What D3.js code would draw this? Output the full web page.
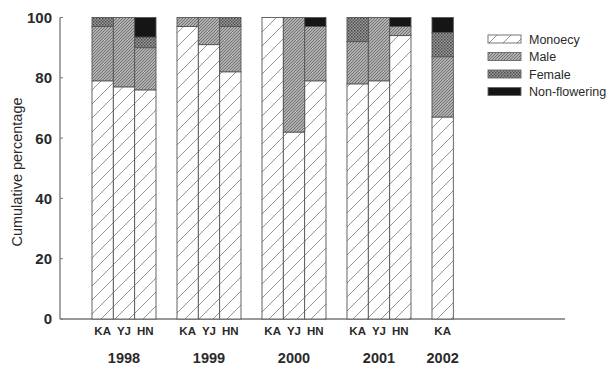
<!DOCTYPE html>
<html>
<head>
<meta charset="utf-8">
<script src="https://cdn.jsdelivr.net/npm/d3@7"></script>
<style>
  html, body { margin: 0; padding: 0; background: #fff; }
  svg { display: block; font-family: "Liberation Sans", Arial, sans-serif; }
</style>
</head>
<body>
<svg id="chart" width="609" height="368"></svg>
<script>
const years = ["1998", "1999", "2000", "2001", "2002"];
const sites = ["KA", "YJ", "HN"];
const barYear = ["1998","1998","1998","1999","1999","1999","2000","2000","2000","2001","2001","2001","2002"];
const barSite = ["KA","YJ","HN","KA","YJ","HN","KA","YJ","HN","KA","YJ","HN","KA"];
const monoecy      = [79, 77, 76,   97, 91, 82,   100, 62, 79,   78, 79, 94,   67];
const male         = [18, 23, 14,    3,  9, 15,     0, 38, 18,   14, 21,  3,   20];
const female       = [ 3,  0, 3.5,   0,  0,  3,     0,  0,  0,    8,  0,  0,    8];
const nonFlowering = [ 0,  0, 6.5,   0,  0,  0,     0,  0,  3,    0,  0,  3,    5];
const seriesNames = ["Monoecy", "Male", "Female", "Non-flowering"];
const yTicks = [0, 20, 40, 60, 80, 100];

const svg = d3.select("#chart");
const defs = svg.append("defs");

// patterns
const pMono = defs.append("pattern").attr("id", "p-mono").attr("patternUnits", "userSpaceOnUse")
  .attr("width", 14).attr("height", 14);
pMono.append("rect").attr("width", 14).attr("height", 14).attr("fill", "#fff");
pMono.append("path").attr("d", "M-2,16 L16,-2 M-2,2 L2,-2 M12,16 L16,12")
  .attr("stroke", "#888").attr("stroke-width", 0.9);

const pMale = defs.append("pattern").attr("id", "p-male").attr("patternUnits", "userSpaceOnUse")
  .attr("width", 3).attr("height", 3);
pMale.append("rect").attr("width", 3).attr("height", 3).attr("fill", "#b0b0b0");
pMale.append("path").attr("d", "M-1,4 L4,-1 M-1,1 L1,-1 M2,4 L4,2")
  .attr("stroke", "#737373").attr("stroke-width", 1);

const pFem = defs.append("pattern").attr("id", "p-fem").attr("patternUnits", "userSpaceOnUse")
  .attr("width", 3).attr("height", 3);
pFem.append("rect").attr("width", 3).attr("height", 3).attr("fill", "#9a9a9a");
pFem.append("rect").attr("width", 1.5).attr("height", 1.5).attr("fill", "#4a4a4a");
pFem.append("rect").attr("x", 1.5).attr("y", 1.5).attr("width", 1.5).attr("height", 1.5).attr("fill", "#5a5a5a");

const fills = ["url(#p-mono)", "url(#p-male)", "url(#p-fem)", "#151515"];

// scales
const y = d3.scaleLinear().domain([0, 100]).range([319, 17.5]);
const xGroup = d3.scaleBand().domain(years).range([92, 496]).paddingInner(21 / 85).paddingOuter(0);
const xSite = d3.scaleBand().domain(sites).range([0, xGroup.bandwidth()]).padding(0);

// data table
const table = barYear.map((yr, i) => ({
  year: yr, site: barSite[i],
  Monoecy: monoecy[i], Male: male[i], Female: female[i], "Non-flowering": nonFlowering[i]
}));
const stack = d3.stack().keys(seriesNames)(table);

// axes lines
svg.append("line").attr("x1", 60).attr("x2", 565).attr("y1", y(0)).attr("y2", y(0))
  .attr("stroke", "#777").attr("stroke-width", 1.3);
svg.append("line").attr("x1", 60).attr("x2", 60).attr("y1", y(0)).attr("y2", y(100))
  .attr("stroke", "#777").attr("stroke-width", 1.3);

// y ticks
const yAxis = svg.append("g");
yTicks.forEach(t => {
  yAxis.append("line").attr("x1", 60).attr("x2", 63).attr("y1", y(t)).attr("y2", y(t))
    .attr("stroke", "#777").attr("stroke-width", 1);
  yAxis.append("text").attr("x", 52).attr("y", y(t)).attr("dy", "0.36em")
    .attr("text-anchor", "end").attr("font-size", 15).attr("font-weight", "bold")
    .attr("fill", "#2a2a2a").text(t);
});

svg.append("text").attr("transform", "translate(22,172) rotate(-90)")
  .attr("text-anchor", "middle").attr("font-size", 14.5).attr("fill", "#2a2a2a")
  .text("Cumulative percentage");

// bars
stack.forEach((layer, li) => {
  svg.append("g").selectAll("rect").data(layer.filter(d => d[1] - d[0] > 0)).join("rect")
    .attr("x", d => xGroup(d.data.year) + xSite(d.data.site))
    .attr("width", xSite.bandwidth())
    .attr("y", d => y(d[1]))
    .attr("height", d => y(d[0]) - y(d[1]))
    .attr("fill", fills[li])
    .attr("stroke", "#555").attr("stroke-width", 0.9);
});

// site labels
svg.append("g").selectAll("text").data(table).join("text")
  .attr("x", d => xGroup(d.year) + xSite(d.site) + xSite.bandwidth() / 2)
  .attr("y", 335).attr("text-anchor", "middle")
  .attr("font-size", 11.5).attr("font-weight", "bold").attr("fill", "#2a2a2a")
  .text(d => d.site);

// year labels
svg.append("g").selectAll("text").data(years).join("text")
  .attr("x", d => xGroup(d) + (d === "2002" ? xSite.bandwidth() / 2 : xGroup.bandwidth() / 2))
  .attr("y", 363).attr("text-anchor", "middle")
  .attr("font-size", 14.5).attr("font-weight", "bold").attr("fill", "#2a2a2a")
  .text(d => d);

// legend
const legend = svg.append("g");
seriesNames.forEach((s, i) => {
  const ly = 35 + i * 17.5;
  legend.append("rect").attr("x", 488).attr("y", ly).attr("width", 33).attr("height", 8)
    .attr("fill", fills[i]).attr("stroke", "#666").attr("stroke-width", 0.9);
  legend.append("text").attr("x", 529).attr("y", ly + 4).attr("dy", "0.36em")
    .attr("font-size", 12.5).attr("fill", "#2a2a2a").text(s);
});
</script>
</body>
</html>
